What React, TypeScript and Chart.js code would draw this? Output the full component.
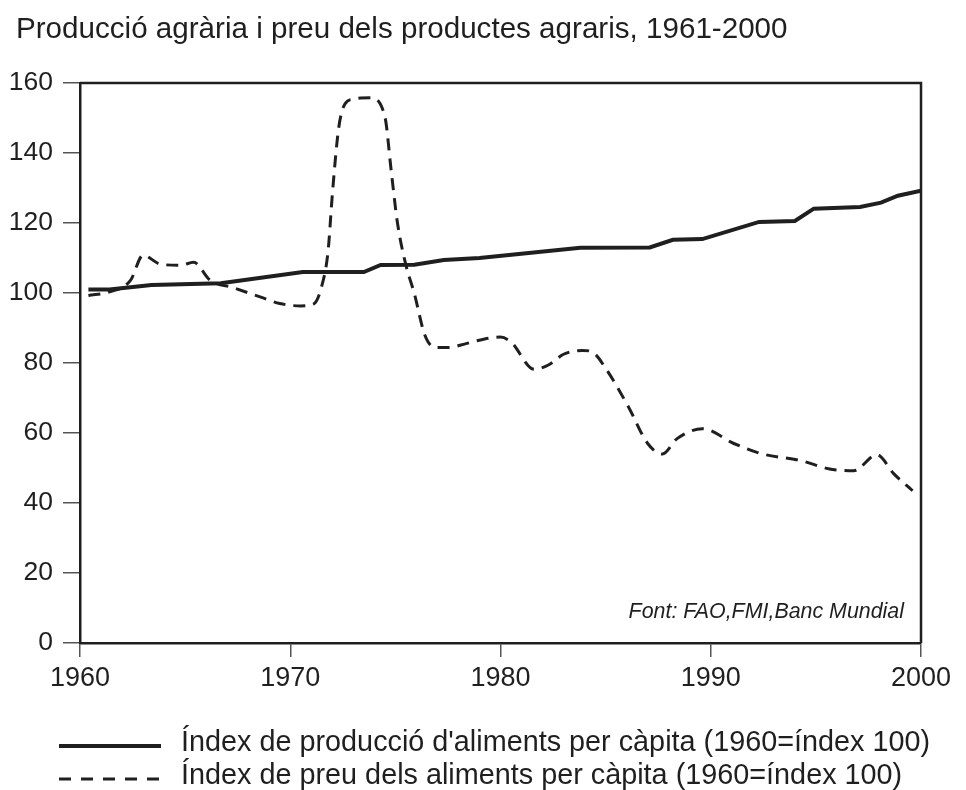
import { useEffect, useRef } from "react";
import { Chart, registerables } from "chart.js";

Chart.register(...registerables);

const TITLE = "Producció agrària i preu dels productes agraris, 1961-2000";
const SOURCE = "Font: FAO,FMI,Banc Mundial";
const SERIES_LABELS = [
  "Índex de producció d'aliments per càpita (1960=índex 100)",
  "Índex de preu dels aliments per càpita (1960=índex 100)",
];
const X_TICKS = [1960, 1970, 1980, 1990, 2000];
const Y_TICKS = [0, 20, 40, 60, 80, 100, 120, 140, 160];

// Production index (solid line)
const productionYears = [
  1960.4, 1961.4, 1963.4, 1966.7, 1970.6, 1973.5, 1974.3, 1975.9, 1977.3, 1979.0,
  1983.8, 1987.1, 1988.2, 1989.6, 1992.3, 1994.0, 1994.9, 1997.1, 1998.1, 1998.9, 2000.0,
];
const productionValues = [
  101, 101, 102.3, 102.8, 106, 106, 108, 108.1, 109.4, 110,
  112.9, 113, 115.2, 115.4, 120.3, 120.6, 124.1, 124.6, 125.8, 127.8, 129.2,
];

// Price index (dashed line)
const priceYears = [
  1960.4, 1961.4, 1962.4, 1963.0, 1963.8, 1964.8, 1965.4, 1966.2, 1967.3, 1968.6,
  1969.5, 1970.5, 1971.1, 1971.5, 1971.8, 1972.0, 1972.3, 1972.6, 1973.0, 1973.8,
  1974.5, 1974.8, 1975.1, 1975.5, 1975.9, 1976.4, 1976.9, 1977.5, 1978.4, 1979.2,
  1980.0, 1980.5, 1981.6, 1982.3, 1983.0, 1983.9, 1984.4, 1985.0, 1986.1, 1987.0,
  1987.7, 1988.4, 1989.6, 1991.1, 1992.4, 1994.3, 1995.6, 1996.8, 1997.9, 1998.7,
  1999.6,
];
const priceValues = [
  99.3, 100.3, 103.6, 110.8, 108.3, 107.9, 108.8, 103.6, 101.5, 98.8,
  97, 96.3, 96.8, 102, 112, 128, 147, 154, 155.4, 155.8,
  150.4, 135, 120, 108, 99.9, 88, 84.4, 84.4, 85.6, 86.8,
  87.4, 86, 78.2, 79.5, 82.5, 83.6, 83, 78.5, 67.3, 57,
  54, 58.4, 61.2, 57, 54.1, 52.1, 49.8, 49.2, 53.8, 48.4,
  43.5,
];

const FONT = "'Liberation Sans', Arial, Helvetica, sans-serif";
const INK = "#1f1f1f";
const DASH = [12, 8];

const overlayPlugin = {
  id: "overlay",
  afterDraw(chart: any) {
    const { ctx, chartArea } = chart;
    ctx.save();
    // frame (top + right)
    ctx.strokeStyle = INK;
    ctx.lineWidth = 2.5;
    ctx.beginPath();
    ctx.moveTo(chartArea.left, chartArea.top);
    ctx.lineTo(chartArea.right, chartArea.top);
    ctx.lineTo(chartArea.right, chartArea.bottom);
    ctx.stroke();

    // title
    ctx.fillStyle = INK;
    ctx.textBaseline = "alphabetic";
    ctx.textAlign = "left";
    ctx.font = `29.6px ${FONT}`;
    ctx.fillText(TITLE, 16, 38);

    // source
    ctx.font = `italic 21.4px ${FONT}`;
    ctx.textAlign = "right";
    ctx.fillText(SOURCE, chartArea.right - 17, chartArea.bottom - 25);

    // legend
    const lx0 = 59;
    const lx1 = 161;
    const rows = [
      { y: 746, width: 4, dash: [] as number[] },
      { y: 779, width: 2.8, dash: [12, 10] },
    ];
    ctx.textAlign = "left";
    ctx.font = `28.8px ${FONT}`;
    rows.forEach((r, i) => {
      ctx.strokeStyle = INK;
      ctx.lineWidth = r.width;
      ctx.setLineDash(r.dash);
      ctx.beginPath();
      ctx.moveTo(lx0, r.y);
      ctx.lineTo(lx1, r.y);
      ctx.stroke();
      ctx.setLineDash([]);
      ctx.fillText(SERIES_LABELS[i], 181, r.y + 5);
    });
    ctx.restore();
  },
};

export default function App() {
  const ref = useRef<HTMLCanvasElement | null>(null);

  useEffect(() => {
    if (!ref.current) return;
    const chart = new Chart(ref.current, {
      type: "line",
      data: {
        datasets: [
          {
            label: SERIES_LABELS[0],
            data: productionYears.map((x, i) => ({ x, y: productionValues[i] })),
            borderColor: INK,
            borderWidth: 4,
            pointRadius: 0,
            tension: 0,
            fill: false,
          },
          {
            label: SERIES_LABELS[1],
            data: priceYears.map((x, i) => ({ x, y: priceValues[i] })),
            borderColor: INK,
            borderWidth: 3,
            borderDash: DASH,
            pointRadius: 0,
            cubicInterpolationMode: "monotone",
            fill: false,
          },
        ],
      },
      plugins: [overlayPlugin],
      options: {
        responsive: false,
        animation: false,
        events: [],
        layout: { padding: { left: 0, top: 83, right: 45, bottom: 0 } },
        plugins: {
          legend: { display: false },
          title: { display: false },
          tooltip: { enabled: false },
        },
        scales: {
          x: {
            type: "linear",
            min: 1960,
            max: 2000,
            afterBuildTicks: (s: any) => {
              s.ticks = X_TICKS.map((v) => ({ value: v }));
            },
            afterFit: (s: any) => {
              s.height = 147;
            },
            ticks: {
              font: { family: FONT, size: 27 },
              color: INK,
              padding: 5,
              maxRotation: 0,
              autoSkip: false,
              callback: (v: any) => String(v),
            },
            grid: {
              drawOnChartArea: false,
              drawTicks: true,
              tickLength: 14,
              color: "#555",
              lineWidth: 1.5,
            },
            border: { display: true, color: INK, width: 2.5 },
          },
          y: {
            min: 0,
            max: 160,
            afterBuildTicks: (s: any) => {
              s.ticks = Y_TICKS.map((v) => ({ value: v }));
            },
            afterFit: (s: any) => {
              s.width = 80;
            },
            ticks: {
              font: { family: FONT, size: 26.5 },
              color: INK,
              padding: 10,
              autoSkip: false,
            },
            grid: {
              drawOnChartArea: false,
              drawTicks: true,
              tickLength: 17,
              color: "#555",
              lineWidth: 1.5,
            },
            border: { display: true, color: INK, width: 2.5 },
          },
        },
      },
    });
    return () => chart.destroy();
  }, []);

  return (
    <div style={{ position: "absolute", left: 0, top: 0, width: 966, height: 790, background: "#fff" }}>
      <canvas ref={ref} width={966} height={790} style={{ display: "block" }} />
    </div>
  );
}
